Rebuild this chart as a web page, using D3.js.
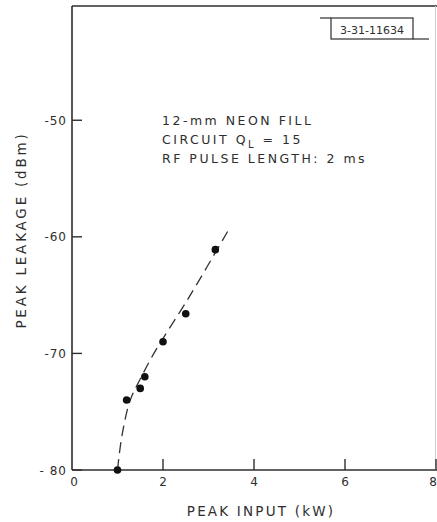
<!DOCTYPE html>
<html>
<head>
<meta charset="utf-8">
<script src="https://cdn.jsdelivr.net/npm/d3@7"></script>
<style>
  body { margin: 0; background: #fff; }
  text { font-family: "DejaVu Sans", sans-serif; fill: #2e2e2e; }
</style>
</head>
<body>
<svg id="chart" width="437" height="522"></svg>
<script>
// measured points
const inputKW = [1.0, 1.2, 1.5, 1.6, 2.0, 2.5, 3.15];
const leakage = [-80, -74, -73, -72, -69, -66.6, -61.1];

// hand drawn dashed fit
const fitKW = [1.0, 1.1, 1.28, 1.5, 1.8, 2.6, 3.47];
const fitDBm = [-80, -77, -74, -72.2, -70, -65, -59.2];

const xTicks = [0, 2, 4, 6, 8];
const yTicks = [-50, -60, -70, -80];
const notes = ["12-mm NEON FILL", "CIRCUIT Q", "RF PULSE LENGTH: 2 ms"];

const svg = d3.select("#chart");
const ink = "#2e2e2e";

const margin = {left: 72, right: 1, top: 6, bottom: 52};
const width = 437, height = 522;

const x = d3.scaleLinear().domain([0, 8]).range([margin.left, width - margin.right]);
const y = d3.scaleLinear().domain([-80, -40.2]).range([height - margin.bottom, margin.top]);

// frame
svg.append("line")
  .attr("x1", x(0)).attr("x2", x(0))
  .attr("y1", y(-40.2)).attr("y2", y(-80))
  .attr("stroke", ink).attr("stroke-width", 1.6);
svg.append("line")
  .attr("x1", x(0)).attr("x2", width)
  .attr("y1", y(-40.2)).attr("y2", y(-40.2))
  .attr("stroke", ink).attr("stroke-width", 1.6);
svg.append("line")
  .attr("x1", x(0)).attr("x2", width)
  .attr("y1", y(-80)).attr("y2", y(-80))
  .attr("stroke", ink).attr("stroke-width", 1.6);
svg.append("line")
  .attr("x1", width - 1.5).attr("x2", width - 1.5)
  .attr("y1", y(-40.2)).attr("y2", y(-80))
  .attr("stroke", "#ccc").attr("stroke-width", 1);

// y ticks (inward)
svg.selectAll(".ytick")
  .data(yTicks)
  .join("line")
  .attr("x1", x(0)).attr("x2", x(0) + 10)
  .attr("y1", d => y(d)).attr("y2", d => y(d))
  .attr("stroke", ink).attr("stroke-width", 1.4);

svg.selectAll(".ylab")
  .data(yTicks)
  .join("text")
  .attr("x", x(0) - 5)
  .attr("y", d => y(d) + 4.5)
  .attr("text-anchor", "end")
  .attr("font-size", 12)
  .attr("letter-spacing", 1)
  .text(d => d === -80 ? "- 80" : "-" + Math.abs(d));

// x ticks (upward)
svg.selectAll(".xtick")
  .data(xTicks.slice(1))
  .join("line")
  .attr("x1", d => x(d)).attr("x2", d => x(d))
  .attr("y1", y(-80)).attr("y2", y(-80) - 11)
  .attr("stroke", ink).attr("stroke-width", 1.4);

svg.selectAll(".xlab")
  .data(xTicks)
  .join("text")
  .attr("x", d => d === 0 ? x(d) + 2 : d === 8 ? x(d) - 3 : x(d))
  .attr("y", y(-80) + 16)
  .attr("text-anchor", "middle")
  .attr("font-size", 12)
  .text(d => d);

// axis titles
svg.append("text")
  .attr("x", 261).attr("y", 516)
  .attr("text-anchor", "middle")
  .attr("font-size", 13.5)
  .attr("letter-spacing", 2.2)
  .text("PEAK INPUT (kW)");

svg.append("text")
  .attr("transform", "translate(26,230) rotate(-90)")
  .attr("text-anchor", "middle")
  .attr("font-size", 13.5)
  .attr("letter-spacing", 2.8)
  .text("PEAK LEAKAGE (dBm)");

// annotation
const note = svg.append("g").attr("font-size", 12.5).attr("letter-spacing", 2.5);
note.append("text").attr("x", 162).attr("y", 125).text(notes[0]);
const q = note.append("text").attr("x", 162).attr("y", 144);
q.append("tspan").text(notes[1]);
q.append("tspan").attr("dy", 4).attr("font-size", 10).text("L");
q.append("tspan").attr("dy", -4).text(" = 15");
note.append("text").attr("x", 162).attr("y", 163).text(notes[2]);

// id box
svg.append("line").attr("x1", 320).attr("x2", 331).attr("y1", 18).attr("y2", 18)
  .attr("stroke", ink).attr("stroke-width", 1.2);
svg.append("rect").attr("x", 331).attr("y", 18).attr("width", 82).attr("height", 21)
  .attr("fill", "none").attr("stroke", ink).attr("stroke-width", 1.2);
svg.append("line").attr("x1", 413).attr("x2", 429).attr("y1", 39).attr("y2", 39)
  .attr("stroke", ink).attr("stroke-width", 1.2);
svg.append("text").attr("x", 372).attr("y", 33.5)
  .attr("text-anchor", "middle").attr("font-size", 11)
  .attr("font-family", "'DejaVu Sans Condensed', sans-serif")
  .text("3-31-11634");

// fit curve
const fit = fitKW.map((d, i) => [d, fitDBm[i]]);
const line = d3.line()
  .x(d => x(d[0])).y(d => y(d[1]))
  .curve(d3.curveCatmullRom);
svg.append("path")
  .attr("d", line(fit))
  .attr("fill", "none")
  .attr("stroke", "#333")
  .attr("stroke-width", 1.3)
  .attr("stroke-dasharray", "11,6");

// points
svg.selectAll(".pt")
  .data(inputKW.map((d, i) => [d, leakage[i]]))
  .join("circle")
  .attr("cx", d => x(d[0])).attr("cy", d => y(d[1]))
  .attr("r", 3.8)
  .attr("fill", "#111");
</script>
</body>
</html>
